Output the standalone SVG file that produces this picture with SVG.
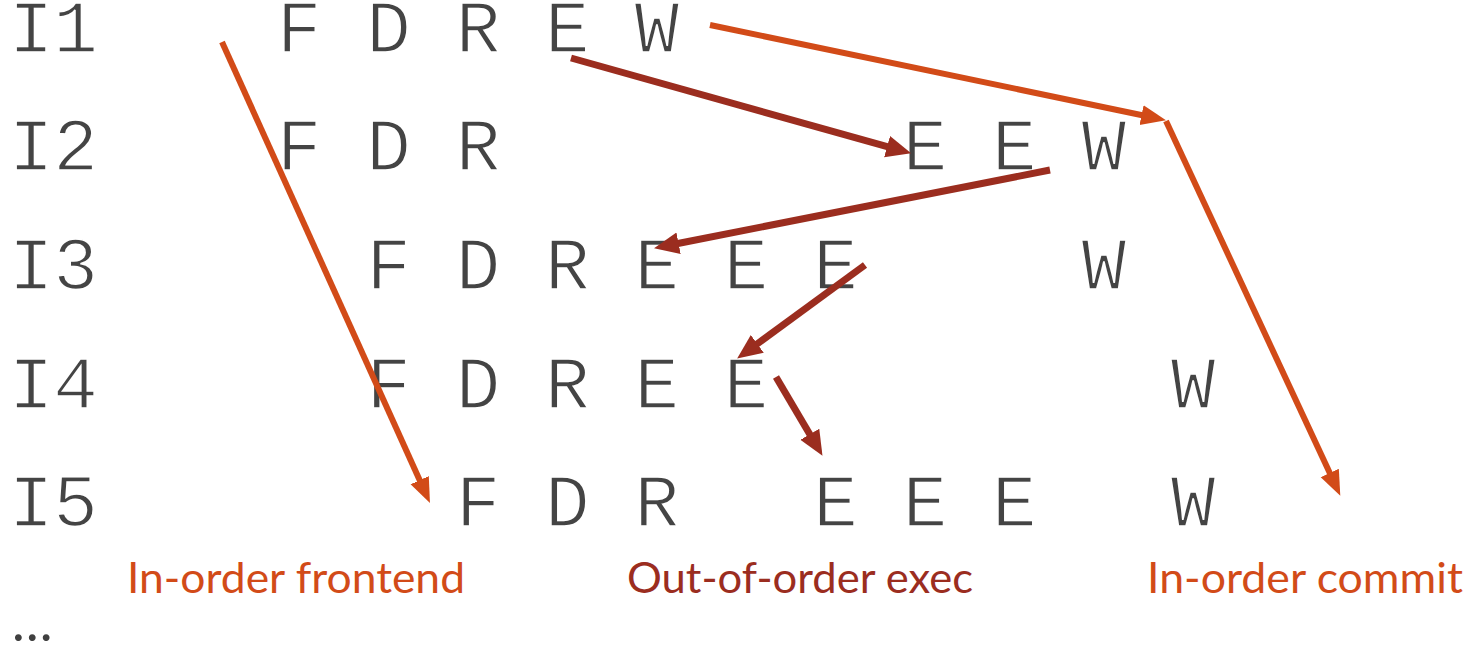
<svg xmlns="http://www.w3.org/2000/svg" width="1471" height="653" viewBox="0 0 1471 653">
  <style>
    .stage { font-family: "Liberation Mono", "DejaVu Sans Mono", monospace; font-size: 74.5px; fill: #444444; stroke: #ffffff; stroke-width: 1.6px; paint-order: fill stroke; text-anchor: middle; }
    .label { font-family: Lato, "Open Sans", sans-serif; font-size: 42px; }
    .orange { fill: #D24B18; }
    .maroon { fill: #9B2D1F; }
    .arr-o { stroke: #D24B18; stroke-width: 6; fill: none; }
    .arr-m { stroke: #9B2D1F; stroke-width: 7; fill: none; }
  </style>
  <defs>
    <marker id="head-o" markerUnits="userSpaceOnUse" markerWidth="28" markerHeight="24" refX="2" refY="12" orient="auto">
      <path d="M0,2 L25,12 L0,22 z" fill="#D24B18"/>
    </marker>
    <marker id="head-m" markerUnits="userSpaceOnUse" markerWidth="28" markerHeight="26" refX="2" refY="13" orient="auto">
      <path d="M0,2 L25,13 L0,24 z" fill="#9B2D1F"/>
    </marker>
  </defs>

  <!-- pipeline rows: one monospace column every 44.7px, stages on every other column -->
  <g id="row-i1">
    <text class="stage" x="31" y="52">I</text><text class="stage" x="75.7" y="52">1</text>
    <text class="stage" x="299.2" y="52">F</text>
    <text class="stage" x="388.6" y="52">D</text>
    <text class="stage" x="478" y="52">R</text>
    <text class="stage" x="567.4" y="52">E</text>
    <text class="stage" x="656.8" y="52">W</text>
  </g>
  <g id="row-i2">
    <text class="stage" x="31" y="170">I</text><text class="stage" x="75.7" y="170">2</text>
    <text class="stage" x="299.2" y="170">F</text>
    <text class="stage" x="388.6" y="170">D</text>
    <text class="stage" x="478" y="170">R</text>
    <text class="stage" x="925" y="170">E</text>
    <text class="stage" x="1014.4" y="170">E</text>
    <text class="stage" x="1103.8" y="170">W</text>
  </g>
  <g id="row-i3">
    <text class="stage" x="31" y="289">I</text><text class="stage" x="75.7" y="289">3</text>
    <text class="stage" x="388.6" y="289">F</text>
    <text class="stage" x="478" y="289">D</text>
    <text class="stage" x="567.4" y="289">R</text>
    <text class="stage" x="656.8" y="289">E</text>
    <text class="stage" x="746.2" y="289">E</text>
    <text class="stage" x="835.6" y="289">E</text>
    <text class="stage" x="1103.8" y="289">W</text>
  </g>
  <g id="row-i4">
    <text class="stage" x="31" y="408">I</text><text class="stage" x="75.7" y="408">4</text>
    <text class="stage" x="388.6" y="408">F</text>
    <text class="stage" x="478" y="408">D</text>
    <text class="stage" x="567.4" y="408">R</text>
    <text class="stage" x="656.8" y="408">E</text>
    <text class="stage" x="746.2" y="408">E</text>
    <text class="stage" x="1193.2" y="408">W</text>
  </g>
  <g id="row-i5">
    <text class="stage" x="31" y="526">I</text><text class="stage" x="75.7" y="526">5</text>
    <text class="stage" x="478" y="526">F</text>
    <text class="stage" x="567.4" y="526">D</text>
    <text class="stage" x="656.8" y="526">R</text>
    <text class="stage" x="835.6" y="526">E</text>
    <text class="stage" x="925" y="526">E</text>
    <text class="stage" x="1014.4" y="526">E</text>
    <text class="stage" x="1193.2" y="526">W</text>
  </g>

  <!-- dependency / ordering arrows -->
  <g id="connectors">
    <line class="arr-o" x1="222" y1="42" x2="420.5" y2="482" marker-end="url(#head-o)"/>
    <line class="arr-o" x1="710" y1="25" x2="1143.5" y2="115.5" marker-end="url(#head-o)"/>
    <line class="arr-o" x1="1166" y1="121" x2="1330.6" y2="474.8" marker-end="url(#head-o)"/>
    <line class="arr-m" x1="571" y1="58" x2="889" y2="147.1" marker-end="url(#head-m)"/>
    <line class="arr-m" x1="1050" y1="170" x2="676.6" y2="243.7" marker-end="url(#head-m)"/>
    <line class="arr-m" x1="865" y1="265" x2="755.7" y2="345" marker-end="url(#head-m)"/>
    <line class="arr-m" x1="776" y1="377" x2="810.8" y2="436" marker-end="url(#head-m)"/>
  </g>

  <g id="label-frontend">
    <text class="label orange" x="127" y="593" textLength="338" lengthAdjust="spacingAndGlyphs">In-order frontend</text>
  </g>
  <g id="label-exec">
    <text class="label maroon" x="627" y="593" textLength="346" lengthAdjust="spacingAndGlyphs">Out-of-order exec</text>
  </g>
  <g id="label-commit">
    <text class="label orange" x="1147" y="593" textLength="316" lengthAdjust="spacingAndGlyphs">In-order commit</text>
  </g>
  <g id="ellipsis">
    <text x="12" y="641" font-family="Lato, sans-serif" font-size="54" fill="#404040">…</text>
  </g>
</svg>
